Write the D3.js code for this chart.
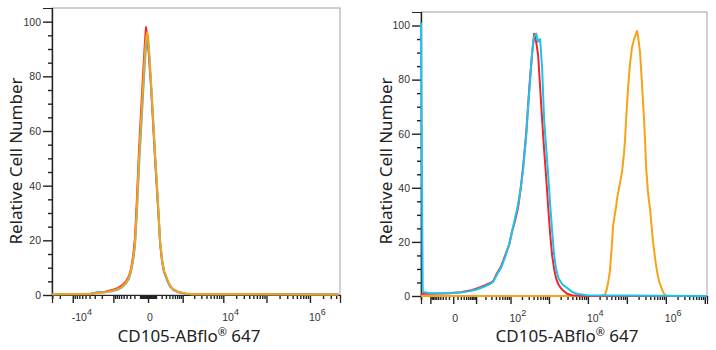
<!DOCTYPE html>
<html><head><meta charset="utf-8">
<script src="https://cdn.jsdelivr.net/npm/d3@7"></script>
<style>body{margin:0;background:#fff}</style>
</head><body><svg id="c" width="716" height="350"></svg>
<script>
// ---------- data ----------
const yMajorTicks = [0, 20, 40, 60, 80, 100];
const yMinorTicks = [5, 10, 15, 25, 30, 35, 45, 50, 55, 65, 70, 75, 85, 90, 95];

// left panel (all three samples overlap near 0)
const leftX = [-30000, -3905, -2637, -1660, -1088, -740, -563, -419, -330, -277,
  -230, -188, -150, -116, -85, -58, -33, -21, -10, 0,
  10, 33, 58, 85, 116, 150, 169, 209, 253, 330,
  419, 524, 740, 1157, 1761, 4500000];
const leftRed = [0.3, 0.4, 0.8, 1.2, 1.8, 2.6, 3.5, 5, 7, 9.5,
  14, 21, 36, 53, 67, 80, 93, 98, 95, 92,
  87, 76, 63, 50, 38, 26, 19, 12.5, 8.5, 5.5,
  3.2, 2.0, 1.1, 0.5, 0.3, 0.2];
const leftCyan = [0.3, 0.4, 1.0, 1.0, 1.4, 2.0, 2.8, 4.2, 6, 8.5,
  12.5, 18, 31, 47, 60, 73, 86, 91, 94, 93,
  89, 77, 64, 51, 39, 26, 19.5, 12.5, 8.5, 5.5,
  3.3, 2.1, 1.1, 0.5, 0.3, 0.2];
const leftOrange = [0.3, 0.3, 0.7, 1.0, 1.5, 2.2, 3.0, 4.5, 6.5, 9,
  13, 19, 33, 50, 63, 76, 89, 94, 96, 95,
  90, 78, 65, 52, 40, 27, 20, 13, 9, 6,
  3.5, 2.2, 1.2, 0.6, 0.3, 0.2];

// right panel
const rightX = [-20, -17.7, -10.1, -4.04, -0.68, 1.79, 6.05, 11.8, 19.6, 27.6,
  33.6, 43.5, 56, 71.9, 92, 110.5, 132.6, 159, 190, 215,
  257, 290, 326, 368, 414, 467, 526, 592, 667, 750,
  845, 951, 1071, 1206, 1357, 1528, 1720, 1936, 2311, 2928,
  3934, 5610, 9548, 11000000];
const rightRed = [0.8, 0.8, 0.8, 0.9, 1.0, 1.4, 2.0, 3.0, 4.0, 4.8,
  5.5, 8.5, 11, 15, 19, 24, 28, 33, 41, 48,
  60, 71, 81, 90, 97, 94, 89, 77, 65, 54,
  44, 33, 23, 15, 10, 6.5, 4.5, 3.3, 2, 0.8,
  0.3, 0.1, 0, 0];
const rightCyan = [101, 1.5, 1.0, 1.0, 1.1, 1.3, 1.8, 2.6, 3.6, 4.5,
  5.3, 8, 10.5, 14.5, 19, 24, 29, 34, 41, 47,
  59, 70, 80, 90, 96, 97, 94, 95, 84, 65,
  55, 45, 34, 24, 15, 10, 7, 5.5, 4, 3,
  1.5, 0.7, 0.3, 0];
const rightOrangeX = [-20, 20570, 27640, 31100, 34996, 37120, 41780, 44320, 52920, 56130,
  63170, 75400, 84840, 90050, 95480, 107450, 120900, 136100, 153100, 172300,
  182800, 193900, 218300, 245700, 276400, 293200, 311000, 350000, 393800, 443200,
  470200, 529200, 595400, 670200, 754000, 848400, 954800, 1140000, 11000000];
const rightOrange = [0, 0, 0.5, 3, 7, 10, 20, 26, 33, 36,
  40, 46, 53, 58, 65, 77, 86, 92, 95, 97,
  98, 96, 90, 78, 65, 58, 48, 38, 32, 24,
  20, 14, 9, 5.5, 3.5, 1.5, 0.3, 0, 0];

const leftXLabels = [-1e4, 0, 1e4, 1e6];
const rightXLabels = [0, 1e2, 1e4, 1e6];
const xTitle = "CD105-ABflo";
const xTitleSup = "®";
const xTitleTail = " 647";
const yTitle = "Relative Cell Number";
const colors = { red: "#f2262a", cyan: "#1ec2ee", orange: "#f8a21a" };

// ---------- helpers ----------
function decadeTicks(minNeg, maxPos, nMinNeg, nMinPos) {
  const t = [0];
  for (let n = nMinPos; n <= 8; n++) for (let k = 1; k <= 9; k++) {
    const v = k * Math.pow(10, n); if (v <= maxPos) t.push(v);
  }
  for (let n = nMinNeg; n <= 8; n++) for (let k = 1; k <= 9; k++) {
    const v = -k * Math.pow(10, n); if (v >= minNeg) t.push(v);
  }
  return t;
}
function isMajor(v, minExp) {
  if (v === 0) return true;
  const e = Math.log10(Math.abs(v));
  return Math.abs(e - Math.round(e)) < 1e-9 && Math.round(e) >= minExp;
}

const svg = d3.select("#c");

function panel(cfg) {
  const { L, R, T, B } = cfg;
  const x = d3.scaleSymlog().constant(cfg.c).domain(cfg.domain).range([L, R]);
  const y = d3.scaleLinear().domain([0, 105]).range([B, T]);
  const g = svg.append("g");

  g.append("rect").attr("x", L).attr("y", T).attr("width", R - L).attr("height", B - T)
    .attr("fill", "none").attr("stroke", "#a0a0a0").attr("stroke-width", 1);

  // y axis
  const yMaj = g.append("g").attr("transform", `translate(${L},0)`)
    .call(d3.axisLeft(y).tickValues(yMajorTicks).tickSize(9).tickPadding(2));
  const yMin = g.append("g").attr("transform", `translate(${L},0)`)
    .call(d3.axisLeft(y).tickValues(yMinorTicks).tickSize(4).tickFormat(""));
  [yMaj, yMin].forEach(a => {
    a.selectAll("line").attr("stroke", "#222").attr("stroke-width", 1.4);
    a.select(".domain").attr("stroke", "#222").attr("stroke-width", 1.2);
  });
  yMaj.selectAll("text").attr("font-family", "Liberation Sans, Arial, sans-serif")
    .attr("font-size", 10.5).attr("fill", "#333");

  // x axis
  const allTicks = cfg.ticks;
  const maj = allTicks.filter(v => isMajor(v, cfg.majorExp));
  const min = allTicks.filter(v => !isMajor(v, cfg.majorExp));
  const xMin = g.append("g").attr("transform", `translate(0,${B})`)
    .call(d3.axisBottom(x).tickValues(min).tickSize(4).tickFormat(""));
  const xMaj = g.append("g").attr("transform", `translate(0,${B})`)
    .call(d3.axisBottom(x).tickValues(maj).tickSize(8).tickFormat(""));
  [xMin, xMaj].forEach(a => {
    a.selectAll("line").attr("stroke", "#222").attr("stroke-width", 1.4);
    a.select(".domain").attr("stroke", "#222").attr("stroke-width", 1.2);
  });

  // x labels with superscripts
  cfg.labels.forEach(v => {
    const t = g.append("text").attr("x", x(v) - 1).attr("y", B + 26)
      .attr("font-family", "Liberation Sans, Arial, sans-serif").attr("font-size", 10.5)
      .attr("fill", "#333").attr("text-anchor", "start");
    if (v === 0) { t.text("0"); return; }
    const e = Math.round(Math.log10(Math.abs(v)));
    t.append("tspan").text((v < 0 ? "-" : "") + "10");
    t.append("tspan").attr("dy", -6).attr("font-size", 9).text(String(e));
  });

  // titles
  const xt = g.append("text").attr("x", cfg.xTitleX).attr("y", 342)
    .attr("text-anchor", "middle").attr("font-family", "Noto Sans, Open Sans, sans-serif")
    .attr("font-size", 17).attr("fill", "#222");
  xt.append("tspan").text(xTitle);
  xt.append("tspan").attr("dy", -6).attr("font-size", 11).text(xTitleSup);
  xt.append("tspan").attr("dy", 6).text(xTitleTail);

  g.append("text").attr("transform", `translate(${cfg.yTitleX},161) rotate(-90)`)
    .attr("text-anchor", "middle").attr("font-family", "Noto Sans, Open Sans, sans-serif")
    .attr("font-size", 17).attr("fill", "#222").text(yTitle);

  // curves
  const line = d3.line().x(d => x(d[0])).y(d => y(d[1]));
  cfg.series.forEach(s => {
    g.append("path").datum(s.xs.map((xv, i) => [xv, s.ys[i]]))
      .attr("d", line).attr("fill", "none").attr("stroke", s.color)
      .attr("stroke-width", 2).attr("stroke-linejoin", "round");
  });
}

panel({
  L: 52, R: 340, T: 8, B: 295, c: 190, domain: [-30400, 4.9e6],
  ticks: decadeTicks(-30400, 4.9e6, 1, 1), majorExp: 3,
  labels: leftXLabels, yTitleX: 22, xTitleX: 189,
  series: [
    { xs: leftX, ys: leftRed, color: colors.red },
    { xs: leftX, ys: leftCyan, color: colors.cyan },
    { xs: leftX, ys: leftOrange, color: colors.orange }
  ]
});
panel({
  L: 421, R: 707, T: 12, B: 296, c: 3.5, domain: [-20, 1.14e7],
  ticks: decadeTicks(-20, 1.14e7, 0, 0), majorExp: 1,
  labels: rightXLabels, yTitleX: 392, xTitleX: 567,
  series: [
    { xs: rightOrangeX, ys: rightOrange, color: colors.orange },
    { xs: rightX, ys: rightRed, color: colors.red },
    { xs: rightX, ys: rightCyan, color: colors.cyan }
  ]
});
</script></body></html>
